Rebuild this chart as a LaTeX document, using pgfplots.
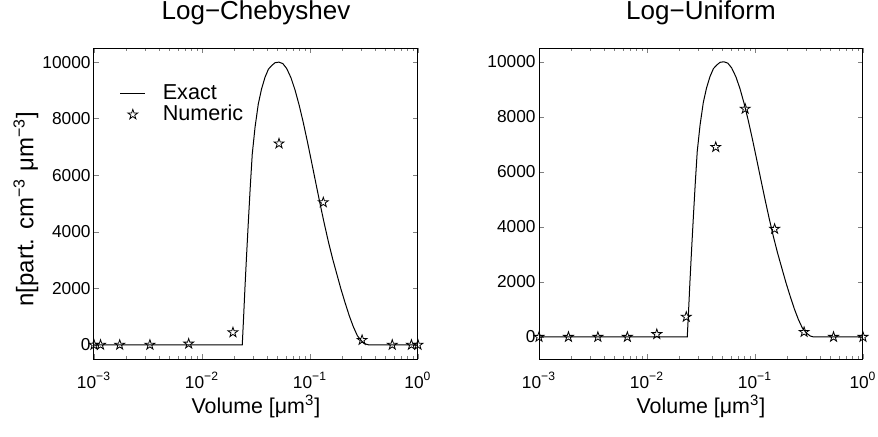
\documentclass[border=0pt]{standalone}
\usepackage{pgfplots}
\pgfplotsset{compat=1.18}
\usepackage{pgfplotstable}
\usepackage{fontspec}
\setmainfont{Liberation Sans}

% MATLAB-like open pentagram
\pgfdeclareplotmark{pentagram}{%
  \pgfpathmoveto{\pgfpointpolar{90}{\pgfplotmarksize}}%
  \pgfpathlineto{\pgfpointpolar{126}{0.382*\pgfplotmarksize}}%
  \pgfpathlineto{\pgfpointpolar{162}{\pgfplotmarksize}}%
  \pgfpathlineto{\pgfpointpolar{198}{0.382*\pgfplotmarksize}}%
  \pgfpathlineto{\pgfpointpolar{234}{\pgfplotmarksize}}%
  \pgfpathlineto{\pgfpointpolar{270}{0.382*\pgfplotmarksize}}%
  \pgfpathlineto{\pgfpointpolar{306}{\pgfplotmarksize}}%
  \pgfpathlineto{\pgfpointpolar{342}{0.382*\pgfplotmarksize}}%
  \pgfpathlineto{\pgfpointpolar{18}{\pgfplotmarksize}}%
  \pgfpathlineto{\pgfpointpolar{54}{0.382*\pgfplotmarksize}}%
  \pgfpathclose
  \pgfusepathqstroke
}

% exact distribution
\pgfplotstableread{
v       n
0.001   0
0.0236  0
0.0243  1000
0.0250  2030
0.0259  3200
0.0269  4390
0.0280  5600
0.0292  6745
0.0310  7700
0.0332  8515
0.0356  9050
0.0383  9460
0.0412  9750
0.0442  9880
0.0475  9980
0.0515  10000
0.0560  9950
0.0608  9777
0.0665  9458
0.0726  9024
0.0795  8470
0.0867  7862
0.0950  7158
0.1037  6448
0.1135  5706
0.124   4988
0.135   4325
0.148   3650
0.162   3045
0.177   2511
0.193   1990
0.211   1500
0.231   1030
0.252   640
0.275   320
0.301   135
0.325   35
0.350   0
1.0     0
}\exact

% numeric, Chebyshev-Lobatto nodes in log v
\pgfplotstableread{
v        n
1.0      0
0.8694   0
0.5779   0
0.3036   170
0.1328   5040
0.05168  7120
0.01935  440
0.007530 40
0.003294 0
0.001730 0
0.001150 0
0.001    0
}\cheb

% numeric, uniform nodes in log v
\pgfplotstableread{
v        n
0.001    0
0.001874 0
0.003511 0
0.006579 0
0.012328 100
0.023101 730
0.043288 6900
0.081113 8290
0.151991 3925
0.284804 180
0.533670 0
1.0      0
}\unif

\begin{document}
\begin{tikzpicture}
\path[use as bounding box] (0,0) rectangle (439pt,218pt);

\begin{axis}[
  at={(47pt,38.5pt)}, anchor=south west,
  xmode=log, xmin=1e-3, xmax=1,
  scale only axis, width=162pt, height=155.5pt,
  ymin=-500, ymax=10500,
  xtick={0.001,0.01,0.1,1},
  xticklabels={10\textsuperscript{−3},10\textsuperscript{−2},10\textsuperscript{−1},10\textsuperscript{0}},
  minor xtick={0.002,0.003,0.004,0.005,0.006,0.007,0.008,0.009,
               0.02,0.03,0.04,0.05,0.06,0.07,0.08,0.09,
               0.2,0.3,0.4,0.5,0.6,0.7,0.8,0.9},
  ytick={0,2000,4000,6000,8000,10000},
  scaled y ticks=false,
  yticklabel style={/pgf/number format/1000 sep={},
                    /pgf/number format/assume math mode=true, inner xsep=1.5pt},
  xticklabel style={anchor=base, yshift=-14.5pt},
  tick label style={font=\fontsize{8.65}{10}\selectfont},
  tick align=inside, major tick length=2.5pt, minor tick length=1.5pt,
  axis line style={line width=0.5pt},
  xlabel={Volume [μm\textsuperscript{3}]},
  xlabel style={font=\fontsize{10.7}{12}\selectfont, at={(axis description cs:0.5,0)}, anchor=base, yshift=-27pt},
  title={Log−Chebyshev},
  title style={font=\fontsize{13}{14}\selectfont, at={(axis description cs:0.5,1)}, anchor=base, yshift=8.5pt},
  ylabel={n[part. cm\textsuperscript{−3} μm\textsuperscript{−3}]},
  ylabel style={font=\fontsize{12}{13}\selectfont, at={(axis description cs:-0.21,0.482)}, anchor=center},
  legend style={draw=none, fill=none, at={(0.06,0.91)}, anchor=north west,
                font=\fontsize{10.8}{11}\selectfont, row sep=-2.5pt},
  legend cell align=left,
]
\addplot[black, line width=0.5pt, mark=none,
  legend image code/.code={\draw[black, line width=0.5pt] (0pt,0pt) -- (12.5pt,0pt); \path (19pt,0pt);}]
  table[x=v, y=n] {\exact};
\addlegendentry{Exact}
\addplot[black, only marks, mark=pentagram, mark size=2.6pt, mark options={line width=0.4pt},
  legend image code/.code={\draw[black, line width=0.4pt] plot[mark=pentagram, mark size=2.6pt] coordinates {(6.25pt,0pt)}; \path (0pt,0pt) (19pt,0pt);}]
  table[x=v, y=n] {\cheb};
\addlegendentry{Numeric}
\end{axis}

\begin{axis}[
  at={(269.5pt,38.5pt)}, anchor=south west,
  xmode=log, xmin=1e-3, xmax=1,
  scale only axis, width=162pt, height=155.5pt,
  ymin=-800, ymax=10500,
  xtick={0.001,0.01,0.1,1},
  xticklabels={10\textsuperscript{−3},10\textsuperscript{−2},10\textsuperscript{−1},10\textsuperscript{0}},
  minor xtick={0.002,0.003,0.004,0.005,0.006,0.007,0.008,0.009,
               0.02,0.03,0.04,0.05,0.06,0.07,0.08,0.09,
               0.2,0.3,0.4,0.5,0.6,0.7,0.8,0.9},
  ytick={0,2000,4000,6000,8000,10000},
  scaled y ticks=false,
  yticklabel style={/pgf/number format/1000 sep={},
                    /pgf/number format/assume math mode=true, inner xsep=1.5pt},
  xticklabel style={anchor=base, yshift=-14.5pt},
  tick label style={font=\fontsize{8.65}{10}\selectfont},
  tick align=inside, major tick length=2.5pt, minor tick length=1.5pt,
  axis line style={line width=0.5pt},
  xlabel={Volume [μm\textsuperscript{3}]},
  xlabel style={font=\fontsize{10.7}{12}\selectfont, at={(axis description cs:0.5,0)}, anchor=base, yshift=-27pt},
  title={Log−Uniform},
  title style={font=\fontsize{13}{14}\selectfont, at={(axis description cs:0.5,1)}, anchor=base, yshift=8.5pt},
]
\addplot[black, line width=0.5pt, mark=none] table[x=v, y=n] {\exact};
\addplot[black, only marks, mark=pentagram, mark size=2.6pt, mark options={line width=0.4pt}]
  table[x=v, y=n] {\unif};
\end{axis}
\end{tikzpicture}
\end{document}
